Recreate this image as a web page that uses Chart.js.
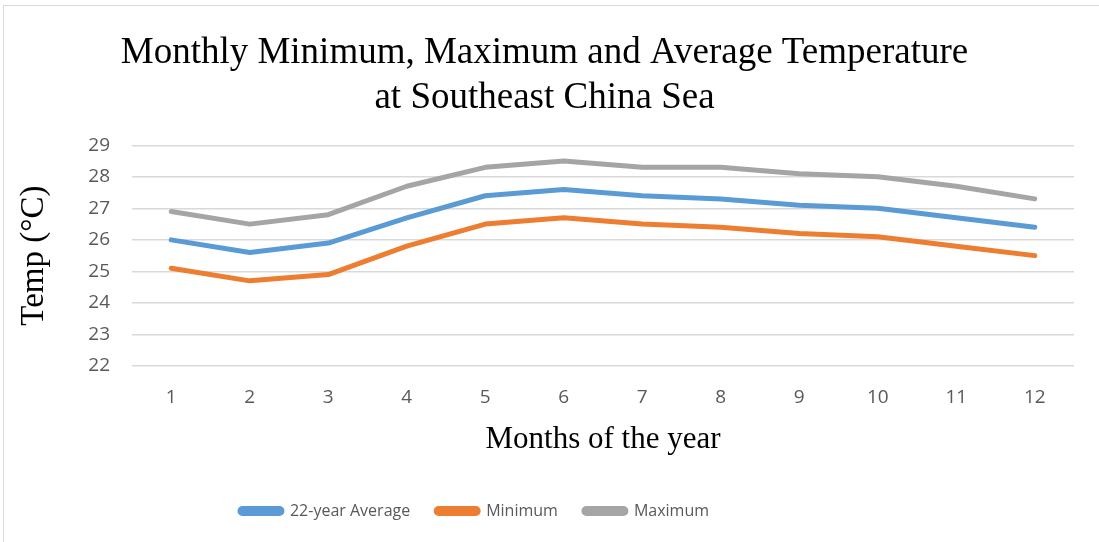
<!DOCTYPE html>
<html><head><meta charset="utf-8">
<script src="https://cdn.jsdelivr.net/npm/chart.js@4/dist/chart.umd.min.js"></script>
<style>html,body{margin:0;padding:0;background:#fff}#wrap{width:1099px;height:542px;position:relative}</style>
</head><body><div id="wrap"><canvas id="c" width="1099" height="542"></canvas></div>
<script>
const months = ['1','2','3','4','5','6','7','8','9','10','11','12'];
const avgTemp = [26.0, 25.6, 25.9, 26.7, 27.4, 27.6, 27.4, 27.3, 27.1, 27.0, 26.7, 26.4];
const minTemp = [25.1, 24.7, 24.9, 25.8, 26.5, 26.7, 26.5, 26.4, 26.2, 26.1, 25.8, 25.5];
const maxTemp = [26.9, 26.5, 26.8, 27.7, 28.3, 28.5, 28.3, 28.3, 28.1, 28.0, 27.7, 27.3];
const seriesNames = ['22-year Average', 'Minimum', 'Maximum'];
const titleLines = ['Monthly Minimum, Maximum and Average Temperature', 'at Southeast China Sea'];
const yTitle = 'Temp (°C)';
const xTitle = 'Months of the year';

const borderPlugin = {
  id: 'frame',
  beforeDraw(chart) {
    const ctx = chart.ctx;
    ctx.save();
    ctx.fillStyle = '#fff';
    ctx.fillRect(0, 0, chart.width, chart.height);
    ctx.strokeStyle = '#d9d9d9';
    ctx.lineWidth = 1;
    ctx.strokeRect(3.5, 5.5, 1200, 600);
    ctx.restore();
  },
  afterLayout(chart) {
    if (chart.legend) { chart.legend.left -= 70; chart.legend.right -= 70; }
  }
};

const mk = (label, data, color) => ({
  label, data, borderColor: color, backgroundColor: color,
  borderWidth: 5, pointRadius: 0, pointHoverRadius: 0, tension: 0,
  borderCapStyle: 'round', borderJoinStyle: 'round', fill: false
});

new Chart(document.getElementById('c'), {
  type: 'line',
  data: {
    labels: months,
    datasets: [
      mk(seriesNames[0], avgTemp, '#5b9bd5'),
      mk(seriesNames[1], minTemp, '#ed7d31'),
      mk(seriesNames[2], maxTemp, '#a5a5a5')
    ]
  },
  options: {
    responsive: false,
    animation: false,
    devicePixelRatio: 1,
    layout: { padding: { left: 15, right: 25, top: 31, bottom: 13 } },
    plugins: {
      title: {
        display: true, text: titleLines, color: '#000',
        font: { family: 'Liberation Serif', size: 37, weight: 'normal', lineHeight: 1.22 },
        padding: { top: 0, bottom: 24 }
      },
      legend: {
        position: 'bottom',
        labels: {
          color: '#595959', font: { family: 'Open Sans', size: 16 },
          boxWidth: 42, boxHeight: 5, padding: 26, useBorderRadius: true, borderRadius: 2.5
        }
      },
      tooltip: { enabled: false }
    },
    scales: {
      x: {
        offset: true,
        grid: { display: false },
        border: { display: false },
        ticks: { color: '#595959', font: { family: 'Open Sans', size: 19 }, padding: 12 },
        title: { display: true, text: xTitle, color: '#000', font: { family: 'Liberation Serif', size: 31 }, padding: { top: 0, bottom: 19 } }
      },
      y: {
        min: 22, max: 29,
        grid: { color: '#d9d9d9', lineWidth: 1.5, drawTicks: false },
        border: { display: false },
        ticks: { stepSize: 1, color: '#595959', font: { family: 'Open Sans', size: 19 }, padding: 22 },
        title: { display: true, text: yTitle, color: '#000', font: { family: 'Liberation Serif', size: 33 }, padding: { top: 0, bottom: 4 } },
        afterFit(s) { s.width = 117; }
      }
    }
  },
  plugins: [borderPlugin]
});
</script></body></html>
